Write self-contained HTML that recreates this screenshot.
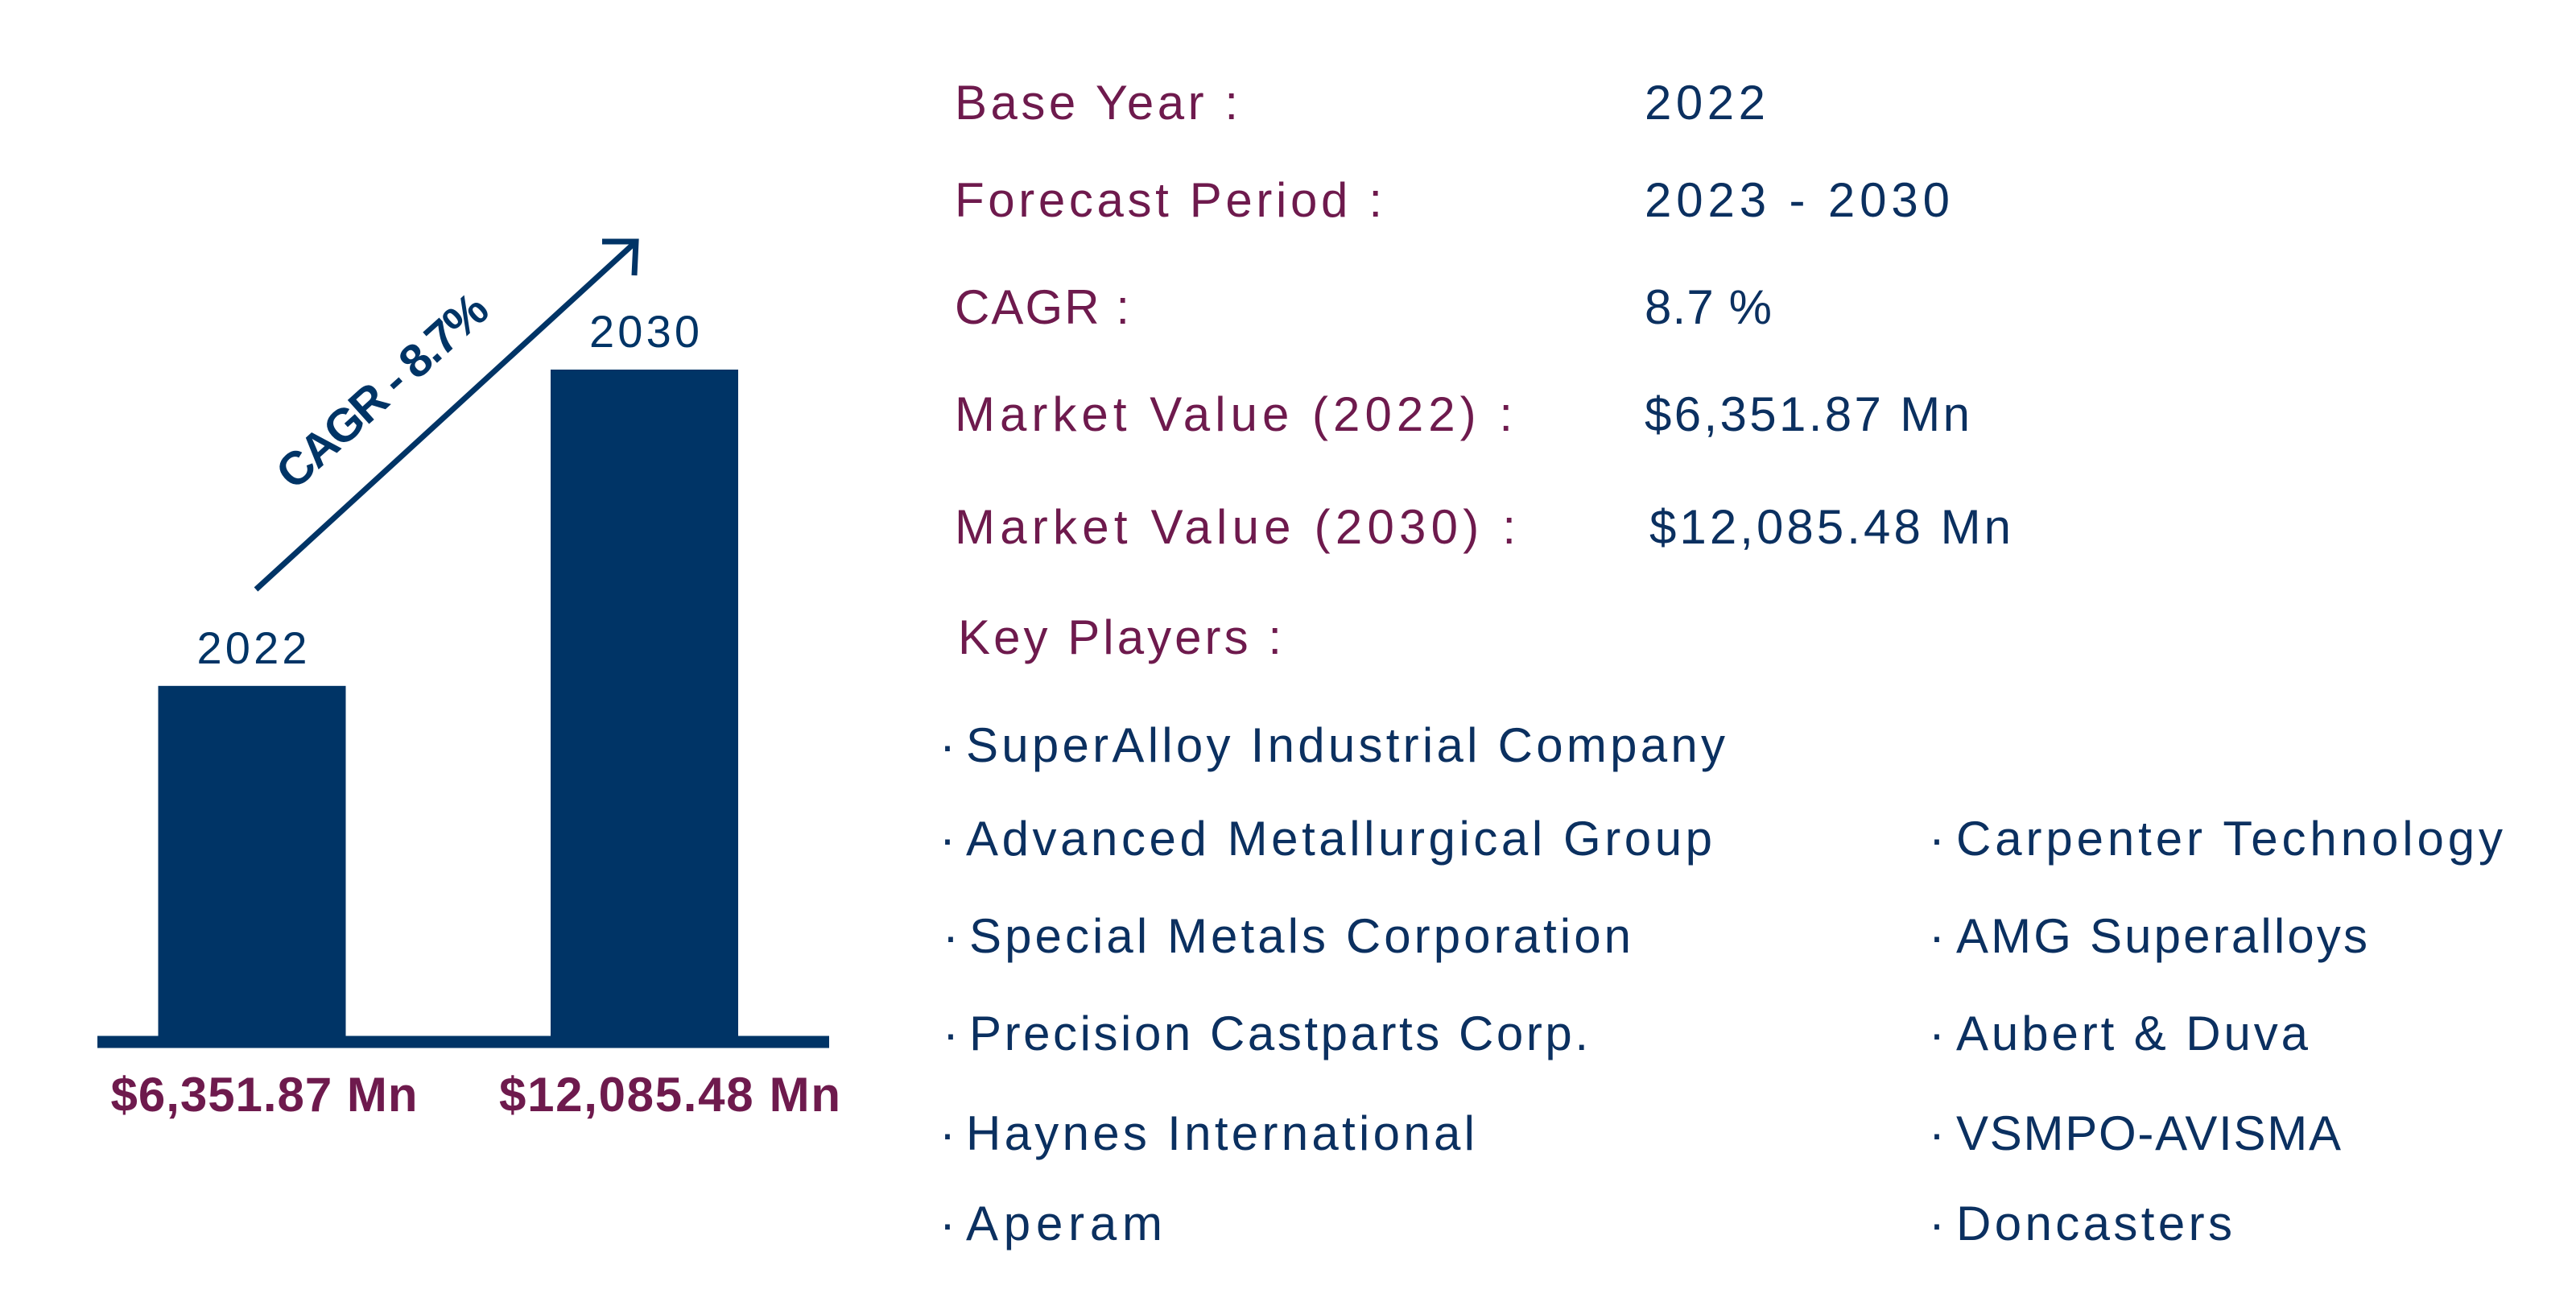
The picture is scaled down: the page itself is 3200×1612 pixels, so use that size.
<!DOCTYPE html>
<html><head><meta charset="utf-8"><style>
html,body{margin:0;padding:0;background:#fff;}
svg{display:block;}
text{font-family:"Liberation Sans",sans-serif;}
.lab{fill:#6e1a4d;font-size:60px;}
.val{fill:#0b3060;font-size:60px;}
.kp{fill:#0b3060;font-size:60px;}
</style></head><body>
<svg id="chart" width="3200" height="1612" viewBox="0 0 3200 1612" xmlns="http://www.w3.org/2000/svg">
<g id="bars"></g>
<line x1="121" y1="1294" x2="1030" y2="1294" stroke="#003466" stroke-width="15"/>
<g>
<line x1="318" y1="732" x2="788" y2="302" stroke="#003466" stroke-width="7"/>
<polyline points="748,300 790,300 788,342" fill="none" stroke="#003466" stroke-width="7"/>
</g>
<text x="488" y="500" transform="rotate(-42 488 500)" text-anchor="middle" font-size="58" font-weight="bold" fill="#003466" textLength="330">CAGR - 8.7%</text>

<g>
<text class="lab" x="1186" y="148" textLength="352">Base Year :</text>
<text class="lab" x="1186" y="269" textLength="531">Forecast Period :</text>
<text class="lab" x="1186" y="402" textLength="217">CAGR :</text>
<text class="lab" x="1186" y="535" textLength="693">Market Value (2022) :</text>
<text class="lab" x="1186" y="675" textLength="697">Market Value (2030) :</text>
<text class="lab" x="1190" y="812" textLength="402">Key Players :</text>
</g>
<g>
<text class="val" x="2043" y="148" textLength="150">2022</text>
<text class="val" x="2043" y="269" textLength="379">2023 - 2030</text>
<text class="val" x="2043" y="402" textLength="158">8.7 %</text>
<text class="val" x="2043" y="535" textLength="404">$6,351.87 Mn</text>
<text class="val" x="2049" y="675" textLength="449">$12,085.48 Mn</text>
</g>
<g>
<text class="kp" x="1167" y="946">·</text><text class="kp" x="1200" y="946" textLength="943">SuperAlloy Industrial Company</text>
<text class="kp" x="1167" y="1062">·</text><text class="kp" x="1200" y="1062" textLength="927">Advanced Metallurgical Group</text>
<text class="kp" x="1171" y="1183">·</text><text class="kp" x="1204" y="1183" textLength="822">Special Metals Corporation</text>
<text class="kp" x="1171" y="1304">·</text><text class="kp" x="1204" y="1304" textLength="769">Precision Castparts Corp.</text>
<text class="kp" x="1167" y="1428">·</text><text class="kp" x="1200" y="1428" textLength="632">Haynes International</text>
<text class="kp" x="1167" y="1540">·</text><text class="kp" x="1200" y="1540" textLength="244">Aperam</text>
<text class="kp" x="2396" y="1062">·</text><text class="kp" x="2430" y="1062" textLength="679">Carpenter Technology</text>
<text class="kp" x="2396" y="1183">·</text><text class="kp" x="2430" y="1183" textLength="511">AMG Superalloys</text>
<text class="kp" x="2396" y="1304">·</text><text class="kp" x="2430" y="1304" textLength="437">Aubert &amp; Duva</text>
<text class="kp" x="2396" y="1428">·</text><text class="kp" x="2430" y="1428" textLength="478">VSMPO-AVISMA</text>
<text class="kp" x="2396" y="1540">·</text><text class="kp" x="2430" y="1540" textLength="343">Doncasters</text>
</g>
</svg>
<script>
const years = ["2022", "2030"];
const values = [6351.87, 12085.48];
const valueLabels = ["$6,351.87 Mn", "$12,085.48 Mn"];
const NS = "http://www.w3.org/2000/svg";
const baseY = 1287, pxPerUnit = 828 / 12085.48;
function yScale(v){ return baseY - v * pxPerUnit; }
function xCenter(i){ return 313 + i * 487.5; }
const g = document.getElementById("bars");
years.forEach((yr, i) => {
  const cx = xCenter(i), w = 233, top = yScale(values[i]);
  const r = document.createElementNS(NS, "rect");
  r.setAttribute("x", cx - w / 2); r.setAttribute("y", top);
  r.setAttribute("width", w); r.setAttribute("height", baseY - top);
  r.setAttribute("fill", "#003466");
  
  
  g.appendChild(r);
  const t = document.createElementNS(NS, "text");
  t.setAttribute("x", cx); t.setAttribute("y", top - 28);
  t.setAttribute("text-anchor", "middle"); t.setAttribute("font-size", "56");
  t.setAttribute("fill", "#003466"); t.setAttribute("textLength", "137");
  t.textContent = yr;
  
  
  g.appendChild(t);
  const v = document.createElementNS(NS, "text");
  v.setAttribute("x", i === 0 ? 328 : 832); v.setAttribute("y", 1380);
  v.setAttribute("text-anchor", "middle"); v.setAttribute("font-size", "60");
  v.setAttribute("font-weight", "bold"); v.setAttribute("fill", "#6e1a4d");
  v.setAttribute("textLength", i === 0 ? "381" : "424");
  v.textContent = valueLabels[i];
  
  
  g.appendChild(v);
});
</script>
</body></html>
